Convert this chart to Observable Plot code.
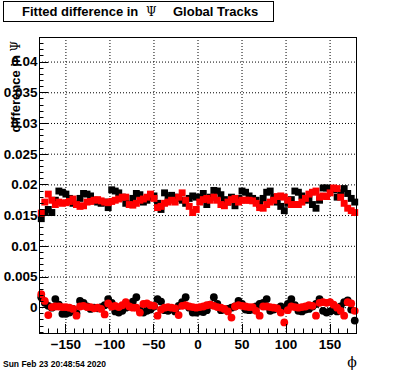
<!DOCTYPE html>
<html><head><meta charset="utf-8">
<script src="https://cdn.jsdelivr.net/npm/d3@7"></script>
<script src="https://cdn.jsdelivr.net/npm/@observablehq/plot@0.6"></script>
<style>body{margin:0;background:#fff} #c{position:relative;width:396px;height:372px}</style>
</head><body><div id="c"></div>
<script>
const phi = [-178,-174,-170,-166,-162,-158,-154,-150,-146,-142,-138,-134,-130,-126,-122,-118,-114,-110,-106,-102,-98,-94,-90,-86,-82,-78,-74,-70,-66,-62,-58,-54,-50,-46,-42,-38,-34,-30,-26,-22,-18,-14,-10,-6,-2,2,6,10,14,18,22,26,30,34,38,42,46,50,54,58,62,66,70,74,78,82,86,90,94,98,102,106,110,114,118,122,126,130,134,138,142,146,150,154,158,162,166,170,174,178];

const blackTop = [0.0145,0.0155,0.0160,0.0155,0.0175,0.0190,0.0188,0.0185,0.0178,0.0170,0.0168,0.0178,0.0186,0.0185,0.0182,0.0175,0.0172,0.0170,0.0172,0.0163,0.0192,0.0190,0.0187,0.0180,0.0170,0.0168,0.0178,0.0186,0.0184,0.0172,0.0175,0.0180,0.0182,0.0170,0.0160,0.0187,0.0180,0.0183,0.0180,0.0178,0.0175,0.0170,0.0178,0.0182,0.0180,
0.0180,0.0186,0.0168,0.0180,0.0191,0.0190,0.0184,0.0176,0.0172,0.0180,0.0166,0.0178,0.0190,0.0188,0.0182,0.0178,0.0175,0.0168,0.0178,0.0188,0.0190,0.0180,0.0172,0.0165,0.0158,0.0170,0.0176,0.0190,0.0188,0.0182,0.0175,0.0178,0.0168,0.0162,0.0175,0.0195,0.0195,0.0194,0.0192,0.0180,0.0187,0.0194,0.0186,0.0178,0.0172];

const redTop = [0.0154,0.0172,0.0185,0.0175,0.0168,0.0172,0.0170,0.0171,0.0173,0.0177,0.0168,0.0165,0.0166,0.0172,0.0173,0.0175,0.0176,0.0174,0.0172,0.0171,0.0173,0.0175,0.0177,0.0180,0.0180,0.0168,0.0167,0.0170,0.0175,0.0177,0.0180,0.0185,0.0178,0.0163,0.0165,0.0170,0.0172,0.0175,0.0172,0.0180,0.0187,0.0175,0.0165,0.0155,0.0160,
0.0172,0.0176,0.0178,0.0175,0.0180,0.0175,0.0168,0.0166,0.0172,0.0176,0.0178,0.0172,0.0175,0.0175,0.0175,0.0174,0.0170,0.0163,0.0162,0.0168,0.0172,0.0175,0.0181,0.0182,0.0180,0.0175,0.0168,0.0168,0.0168,0.0172,0.0178,0.0185,0.0188,0.0190,0.0180,0.0182,0.0181,0.0187,0.0195,0.0194,0.0180,0.0170,0.0162,0.0158,0.0155];

const blackBottom = [0.0017,0.0008,0.0003,0.0000,0.0014,0.0005,-0.0010,-0.0010,-0.0008,-0.0002,-0.0009,0.0011,0.0008,0.0002,-0.0002,0.0000,-0.0001,0.0001,0.0004,0.0014,0.0008,-0.0006,-0.0008,-0.0005,0.0000,0.0002,0.0010,0.0017,-0.0004,-0.0008,-0.0005,-0.0003,0.0002,0.0014,0.0010,-0.0004,-0.0005,-0.0002,-0.0006,0.0003,0.0009,0.0017,0.0000,-0.0008,-0.0008,
-0.0006,-0.0007,-0.0004,0.0005,0.0017,0.0006,-0.0004,-0.0003,-0.0002,0.0000,0.0002,0.0011,0.0006,-0.0003,-0.0004,-0.0003,0.0002,0.0006,0.0008,0.0014,-0.0005,-0.0003,-0.0001,0.0002,-0.0001,0.0006,0.0014,0.0004,-0.0005,-0.0006,-0.0003,-0.0002,0.0002,0.0006,0.0014,-0.0005,-0.0008,-0.0006,-0.0004,-0.0006,0.0002,0.0009,0.0012,-0.0003,-0.0021];

const redBottom = [0.0022,0.0011,-0.0012,0.0001,0.0002,0.0002,0.0001,0.0001,0.0000,-0.0002,-0.0013,0.0002,0.0003,0.0001,0.0001,-0.0001,0.0000,-0.0002,-0.0011,0.0007,0.0002,0.0003,0.0001,0.0004,0.0009,0.0002,0.0000,0.0000,-0.0008,0.0006,0.0007,0.0004,0.0003,-0.0013,-0.0003,0.0000,0.0001,0.0000,-0.0001,-0.0012,0.0003,0.0004,0.0002,0.0001,0.0000,
0.0001,0.0002,0.0004,0.0005,0.0003,0.0001,0.0000,-0.0002,-0.0006,-0.0016,0.0002,0.0004,0.0003,0.0002,0.0001,0.0001,-0.0005,-0.0013,0.0002,0.0002,0.0001,0.0000,-0.0001,-0.0008,-0.0024,-0.0004,0.0002,0.0001,0.0000,0.0001,0.0002,0.0004,0.0003,-0.0013,0.0008,0.0009,0.0008,0.0009,0.0005,0.0000,-0.0005,-0.0013,0.0009,0.0007,-0.0005];

const xMajor = [-150,-100,-50,0,50,100,150];
const xLabels = ["\u2212150","\u2212100","\u221250","0","50","100","150"];
const xMinor = [-180,-170,-160,-140,-130,-120,-110,-90,-80,-70,-60,-40,-30,-20,-10,10,20,30,40,60,70,80,90,110,120,130,140,160,170,180];
const yMajor = [0,0.005,0.01,0.015,0.02,0.025,0.03,0.035,0.04];
const yLabels = ["0","0.005","0.01","0.015","0.02","0.025","0.03","0.035","0.04"];
const yMinor = [-0.004,-0.003,-0.002,-0.001,0.001,0.002,0.003,0.004,0.006,0.007,0.008,0.009,0.011,0.012,0.013,0.014,0.016,0.017,0.018,0.019,0.021,0.022,0.023,0.024,0.026,0.027,0.028,0.029,0.031,0.032,0.033,0.034,0.036,0.037,0.038,0.039,0.041,0.042,0.043];

const titleText = "Fitted difference in";
const titlePsi = "\u03A8";
const titleRest = "Global Tracks";
const yTitle = "difference in \u03A8";
const xTitle = "\u03D5";
const dateText = "Sun Feb 23 20:48:54 2020";

const W = 396, H = 372;
const xDomain = [-180, 180], yDomain = [-0.0042, 0.044];

const mk = arr => phi.map((p, i) => ({phi: p, v: arr[i]}));
const grid = {stroke: "black", strokeOpacity: 1, strokeWidth: 1, strokeDasharray: "1,2"};
const font = "Liberation Sans, Arial, Helvetica, sans-serif";

const plot = Plot.plot({
  width: W, height: H,
  marginLeft: 39, marginRight: 40, marginTop: 37, marginBottom: 39,
  x: {domain: xDomain},
  y: {domain: yDomain},
  style: {fontFamily: font, background: "white", color: "black"},
  marks: [
    Plot.gridX(xMajor, grid),
    Plot.gridY(yMajor, grid),
    Plot.axisX(xMajor, {tickSize: 0, tickPadding: 6, tickFormat: d => xLabels[xMajor.indexOf(d)], fontSize: 13.5, fontWeight: "bold", label: null}),
    Plot.axisY(yMajor, {tickSize: 0, tickPadding: 2, tickFormat: d => yLabels[yMajor.indexOf(d)], fontSize: 13.5, fontWeight: "bold", label: null}),
    Plot.dot(mk(blackTop), {x: "phi", y: "v", symbol: "square", r: 3.9, fill: "black", stroke: "none"}),
    Plot.dot(mk(blackBottom), {x: "phi", y: "v", symbol: "circle", r: 3.9, fill: "black", stroke: "none"}),
    Plot.dot(mk(redTop), {x: "phi", y: "v", symbol: "square", r: 3.9, fill: "#ff0000", stroke: "none"}),
    Plot.dot(mk(redBottom), {x: "phi", y: "v", symbol: "circle", r: 3.9, fill: "#ff0000", stroke: "none"}),
    Plot.frame({stroke: "black", strokeWidth: 1})
  ]
});

const sx = plot.scale("x"), sy = plot.scale("y");
const svg = d3.select(plot);
const yb = sy.apply(yDomain[0]), xl = sx.apply(xDomain[0]);
const g = svg.append("g").attr("stroke", "black").attr("stroke-width", 1);
const tick = (v, len) => g.append("line").attr("x1", Math.round(sx.apply(v)) + 0.5).attr("x2", Math.round(sx.apply(v)) + 0.5).attr("y1", yb).attr("y2", yb - len);
xMajor.forEach(v => tick(v, 9));
xMinor.forEach(v => tick(v, 4.5));
const ytick = (v, len) => g.append("line").attr("y1", Math.round(sy.apply(v)) + 0.5).attr("y2", Math.round(sy.apply(v)) + 0.5).attr("x1", xl).attr("x2", xl + len);
yMajor.forEach(v => ytick(v, 9));
yMinor.forEach(v => ytick(v, 4.5));

// title box
svg.append("rect").attr("x", 3.5).attr("y", 1.5).attr("width", 270).attr("height", 20).attr("fill", "white").attr("stroke", "black");
const tt = svg.append("g").attr("font-family", font).attr("font-size", 13).attr("fill", "black").attr("text-anchor", "start");
tt.append("text").attr("x", 22).attr("y", 16).attr("font-weight", "bold").text(titleText);
tt.append("text").attr("x", 146).attr("y", 16).attr("font-family", "DejaVu Serif, serif").attr("font-size", 12).text(titlePsi);
tt.append("text").attr("x", 173).attr("y", 16).attr("font-weight", "bold").text(titleRest);

// y title
const yt = svg.append("text").attr("transform", "translate(20,41) rotate(-90)").attr("text-anchor", "end")
  .attr("font-family", font).attr("font-size", 13).attr("font-weight", "bold").attr("fill", "black");
yt.append("tspan").text(yTitle.slice(0, -1));
yt.append("tspan").attr("font-family", "DejaVu Serif, serif").attr("font-weight", "normal").attr("font-size", 12).text(yTitle.slice(-1));

// x title
svg.append("text").attr("x", 352).attr("y", 367).attr("text-anchor", "middle").attr("font-family", "DejaVu Serif, serif").attr("font-size", 14).attr("fill", "black").text(xTitle);
// date
svg.append("text").attr("x", 3).attr("y", 367).attr("text-anchor", "start").attr("font-family", font).attr("font-size", 8.5).attr("font-weight", "bold").attr("fill", "black").text(dateText);

document.getElementById("c").appendChild(plot);
</script></body></html>
